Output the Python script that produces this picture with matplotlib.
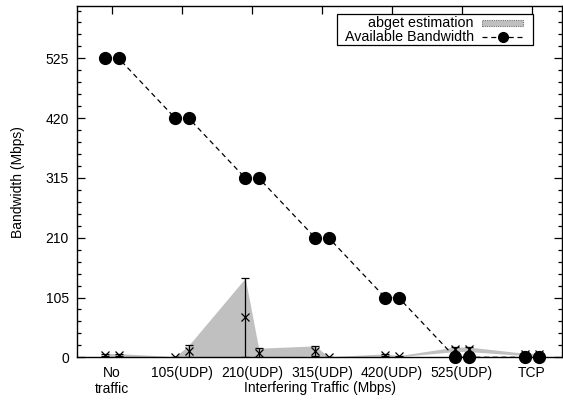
#!/usr/bin/env python3
"""abget estimation vs available bandwidth under interfering traffic."""

import matplotlib
matplotlib.use("Agg")
import matplotlib.pyplot as plt
from matplotlib.patches import Rectangle
from matplotlib.lines import Line2D
from matplotlib.ticker import MultipleLocator

plt.rcParams["font.family"] = ["Liberation Sans", "DejaVu Sans"]

# categories (one group of two runs per interfering traffic setting)
categories = ["No\ntraffic", "105(UDP)", "210(UDP)", "315(UDP)",
              "420(UDP)", "525(UDP)", "TCP"]
group_index = [0, 0, 1, 1, 2, 2, 3, 3, 4, 4, 5, 5, 6, 6]
run_offset = [-0.096, 0.096] * 7

# available bandwidth (Mbps)
available = [525, 525, 420, 420, 315, 315, 210, 210, 105, 105, 0, 0, 0, 0]

# abget estimation mean and error (Mbps)
abget_mean = [4, 4, 0.5, 11, 70, 8, 11, 0.5, 4, 2, 14, 14, 5, 5]
abget_err = [2.5, 2.5, 0.5, 10, 69, 8, 9, 0.5, 2, 1, 4, 4, 2, 2]

yticks = [0, 105, 210, 315, 420, 525]

xs = [g + o for g, o in zip(group_index, run_offset)]
low = [m - e for m, e in zip(abget_mean, abget_err)]
high = [m + e for m, e in zip(abget_mean, abget_err)]

fig = plt.figure(figsize=(5.63, 4.04), dpi=100)
ax = fig.add_axes([0.1373, 0.1156, 0.8607, 0.8696])

# abget estimation: filled band + error bars
ax.fill_between(xs, low, high, color="#c0c0c0", linewidth=0, zorder=1)
ax.errorbar(xs, abget_mean, yerr=abget_err, fmt="x", color="black",
            markersize=6, markeredgewidth=0.9, elinewidth=0.9,
            capsize=3, capthick=0.9, zorder=2)

# available bandwidth
ax.plot(xs, available, color="black", linestyle=(0, (4, 3)), linewidth=0.9,
        marker="o", markersize=8.5, zorder=3, clip_on=False)

ax.set_xlim(-0.496, 6.43)
ax.set_ylim(0, 617)
ax.set_xticks(range(len(categories)))
ax.set_xticklabels(categories, fontsize=10)
ax.set_yticks(yticks)
ax.set_yticklabels([str(v) for v in yticks], fontsize=10)
ax.yaxis.set_minor_locator(MultipleLocator(21))
ax.tick_params(axis="both", which="major", direction="in", length=6,
               width=0.9, top=True, right=True, pad=6)
ax.tick_params(axis="y", which="minor", direction="in", length=3,
               width=0.9, right=True)
ax.tick_params(axis="x", which="both", bottom=False, top=True)
for sp in ax.spines.values():
    sp.set_linewidth(1.0)

ax.set_xlabel("Interfering Traffic (Mbps)", fontsize=10)
ax.xaxis.label.set_verticalalignment("center")
ax.xaxis.set_label_coords(0.5, -0.088)
ax.set_ylabel("Bandwidth (Mbps)", fontsize=10)
ax.yaxis.label.set_verticalalignment("center")
ax.yaxis.set_label_coords(-0.123, 0.5)

# legend box drawn by hand (gnuplot style, right-justified text)
T = ax.transAxes
ax.add_patch(Rectangle((0.535, 0.889), 0.405, 0.088, transform=T,
                       facecolor="white", edgecolor="black", linewidth=0.9,
                       zorder=5))
ax.text(0.818, 0.952, "abget estimation", transform=T, ha="right",
        va="center", fontsize=10.3, zorder=6)
ax.text(0.818, 0.912, "Available Bandwidth", transform=T, ha="right",
        va="center", fontsize=10.3, zorder=6)
ax.add_patch(Rectangle((0.836, 0.943), 0.083, 0.017, transform=T,
                       facecolor="#c0c0c0", edgecolor="#707070",
                       linestyle=(0, (1, 1)), linewidth=0.8, zorder=6))
ax.add_line(Line2D([0.836, 0.919], [0.912, 0.912], transform=T,
                   color="black", linestyle=(0, (4, 3)), linewidth=0.9,
                   zorder=6))
ax.add_line(Line2D([0.8775], [0.912], transform=T, color="black",
                   marker="o", markersize=7, zorder=7))

fig.savefig("out.png", dpi=100)
